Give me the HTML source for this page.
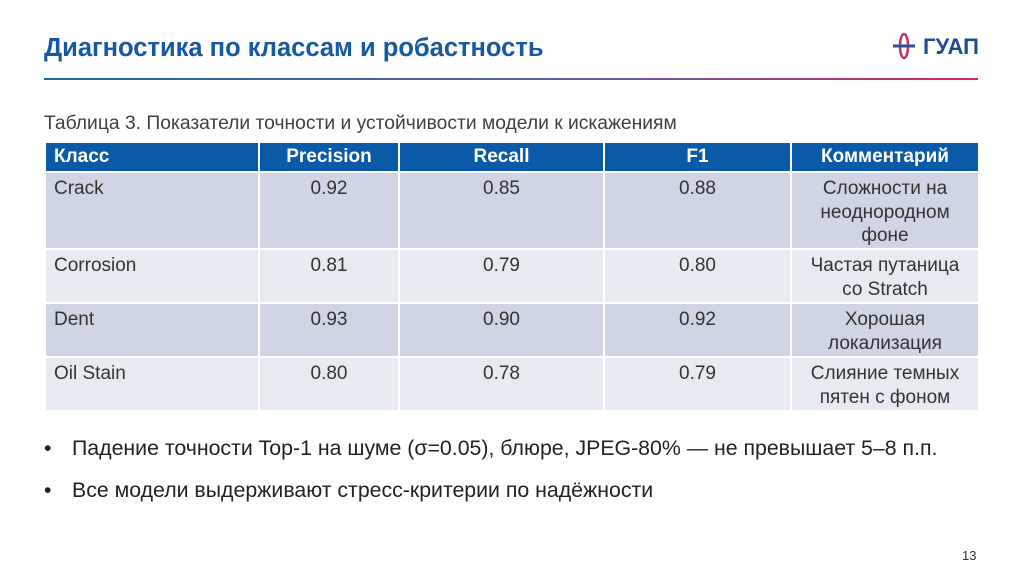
<!DOCTYPE html>
<html><head><meta charset="utf-8"><style>
body{margin:0;width:1024px;height:574px;background:#fff;position:relative;overflow:hidden;font-family:"Liberation Sans",sans-serif;color:#333}
.title{position:absolute;left:44px;top:34px;font-size:25.5px;font-weight:bold;color:#1559a3;white-space:nowrap}
.rule{position:absolute;left:44px;top:78px;width:934px;height:2px;background:linear-gradient(90deg,#1f66b0 0%,#5a5fb0 55%,#d42a55 100%)}
.cap{position:absolute;left:44px;top:113px;font-size:19.3px;color:#404040;white-space:nowrap}
table{position:absolute;left:44px;top:141px;border-collapse:collapse;font-size:19px;line-height:23.5px;table-layout:fixed}
td,th{border:2px solid #fff;padding:0 8px;vertical-align:top;text-align:center}
th{background:#0a5aa8;color:#fff;height:28px;vertical-align:middle;font-size:19px}
td:first-child,th:first-child{text-align:left}
tr.o td{background:#cfd5e4}
tr.e td{background:#e8eaf1}
td{padding-top:4px}
td:last-child{padding:4px 16px 0}
.b{position:absolute;left:44px;font-size:21.3px;color:#222}
.b span{position:absolute;left:28px;white-space:nowrap}
.pg{position:absolute;left:962px;top:548px;font-size:13px;color:#333}
</style></head><body>
<div class="title">Диагностика по классам и робастность</div>
<div class="rule"></div>
<svg style="position:absolute;left:890px;top:28px" width="95" height="38" viewBox="0 0 95 38">
<ellipse cx="14" cy="18" rx="4" ry="12" fill="none" stroke="#c2325f" stroke-width="2.5"/>
<rect x="3" y="16.5" width="22" height="3" fill="#2a4f9a"/>
<text x="33" y="26" font-family="Liberation Sans,sans-serif" font-weight="bold" font-size="22" fill="#1f4a8e">ГУАП</text>
</svg>
<div class="cap">Таблица 3. Показатели точности и устойчивости модели к искажениям</div>
<table>
<colgroup><col style="width:214px"><col style="width:140px"><col style="width:205px"><col style="width:187px"><col style="width:188px"></colgroup>
<tr><th>Класс</th><th>Precision</th><th>Recall</th><th>F1</th><th>Комментарий</th></tr>
<tr class="o" style="height:77px"><td>Crack</td><td>0.92</td><td>0.85</td><td>0.88</td><td>Сложности на неоднородном фоне</td></tr>
<tr class="e" style="height:54px"><td>Corrosion</td><td>0.81</td><td>0.79</td><td>0.80</td><td>Частая путаница со Stratch</td></tr>
<tr class="o" style="height:54px"><td>Dent</td><td>0.93</td><td>0.90</td><td>0.92</td><td>Хорошая локализация</td></tr>
<tr class="e" style="height:54px"><td>Oil Stain</td><td>0.80</td><td>0.78</td><td>0.79</td><td>Слияние темных пятен с фоном</td></tr>
</table>
<div class="b" style="top:436px">•<span>Падение точности Top-1 на шуме (σ=0.05), блюре, JPEG-80% — не превышает 5–8 п.п.</span></div>
<div class="b" style="top:478px">•<span>Все модели выдерживают стресс-критерии по надёжности</span></div>
<div class="pg">13</div>
</body></html>
